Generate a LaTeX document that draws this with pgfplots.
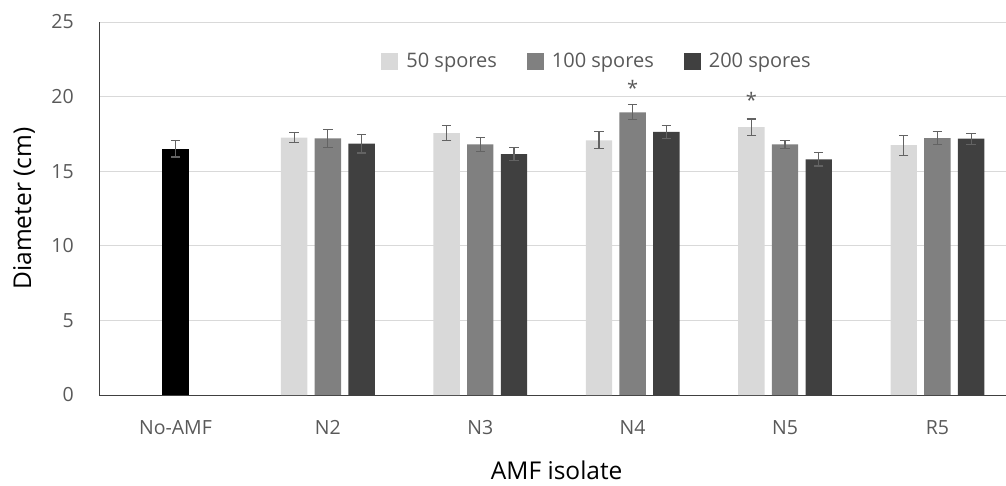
\documentclass[border=0pt]{standalone}
\usepackage{fontspec}
\setmainfont{Open Sans}
\usepackage{pgfplots}
\usepackage{pgfplotstable}
\pgfplotsset{compat=1.18}

\definecolor{s50}{HTML}{D9D9D9}
\definecolor{s100}{HTML}{808080}
\definecolor{s200}{HTML}{404040}
\definecolor{txtgray}{HTML}{595959}
\definecolor{errgray}{HTML}{636363}
\definecolor{gridgray}{HTML}{D9D9D9}

% isolate index, mean diameter and error for each spore dose
\pgfplotstableread{
x  v50   e50   v100  e100  v200  e200
1  17.25 0.33  17.20 0.60  16.85 0.63
2  17.55 0.49  16.80 0.48  16.15 0.43
3  17.07 0.57  18.95 0.51  17.63 0.46
4  17.95 0.55  16.80 0.28  15.80 0.45
5  16.75 0.67  17.22 0.42  17.18 0.37
}\dosedata

\pgfplotstableread{
x  v    e
0  16.5 0.55
}\controldata

\begin{document}
\begin{tikzpicture}
\begin{axis}[
  name=ax,
  scale only axis,
  width=906.7pt, height=373pt,
  ybar,
  bar width=26.4pt,
  xmin=-0.5, xmax=5.45,
  ymin=0, ymax=25,
  ytick={0,5,...,25},
  xtick={0,...,5},
  xticklabels={No-AMF,N2,N3,N4,N5,R5},
  axis x line*=bottom,
  axis y line*=left,
  axis line style={color=s200, line width=1pt},
  major tick length=0pt,
  ymajorgrids,
  grid style={color=gridgray, line width=1pt},
  /pgf/number format/assume math mode=true,
  tick label style={font=\fontsize{19.5}{20}\selectfont, text=txtgray},
  yticklabel style={xshift=-22pt},
  xticklabel style={yshift=-22pt},
  ylabel={Diameter (cm)},
  xlabel={AMF isolate},
  label style={font=\fontsize{24.5}{26}\selectfont, text=black},
  ylabel style={at={(axis description cs:-0.083,0.5)}, anchor=center},
  xlabel style={at={(axis description cs:0.5045,0)}, anchor=center, yshift=-75pt},
  legend style={at={(0.549,0.895)}, anchor=center, draw=none, fill=none,
    font=\fontsize{20}{22}\selectfont, text=txtgray,
    legend columns=3,
    /tikz/every odd column/.append style={column sep=6pt},
    /tikz/every even column/.append style={column sep=28pt}},
  legend image code/.code={\fill[#1, draw=none] (0pt,-8.5pt) rectangle (17pt,8.5pt);},
  error bars/error bar style={color=errgray, line width=1.1pt},
  error bars/error mark options={rotate=90, mark size=4.7pt, color=errgray, line width=1.1pt},
  clip=false,
]
\addplot[fill=black, draw=none, bar shift=0pt, forget plot,
  error bars/.cd, y dir=both, y explicit]
  table[x=x, y=v, y error=e] {\controldata};
\addplot[fill=s50, draw=none, bar shift=-33.7pt,
  error bars/.cd, y dir=both, y explicit]
  table[x=x, y=v50, y error=e50] {\dosedata};
\addlegendentry{50 spores}
\addplot[fill=s100, draw=none, bar shift=0pt,
  error bars/.cd, y dir=both, y explicit]
  table[x=x, y=v100, y error=e100] {\dosedata};
\addlegendentry{100 spores}
\addplot[fill=s200, draw=none, bar shift=33.7pt,
  error bars/.cd, y dir=both, y explicit]
  table[x=x, y=v200, y error=e200] {\dosedata};
\addlegendentry{200 spores}
% significance markers
\node[font=\fontsize{20}{20}\selectfont, text=txtgray, yshift=-4pt] at (axis cs:3,20.84) {*};
\node[font=\fontsize{20}{20}\selectfont, text=txtgray, yshift=-4pt, xshift=-33.7pt] at (axis cs:4,20.04) {*};
\end{axis}
\pgfresetboundingbox
\path[use as bounding box] ([xshift=-99.3pt,yshift=-90pt]ax.south west) rectangle ([yshift=22pt]ax.north east);
\end{tikzpicture}
\end{document}
